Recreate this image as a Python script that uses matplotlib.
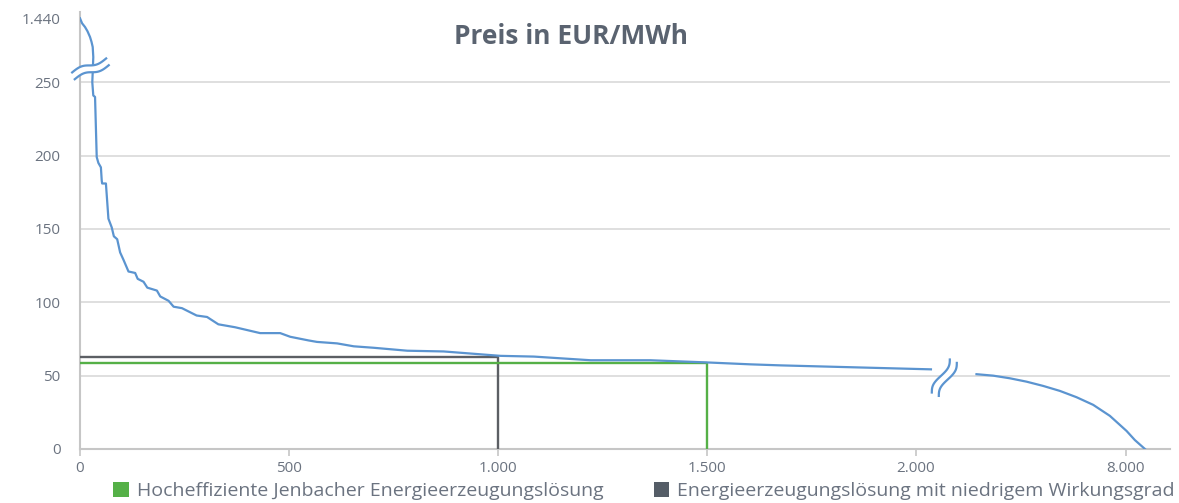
import numpy as np
import matplotlib
matplotlib.use('Agg')
import matplotlib.pyplot as plt
from matplotlib.patches import Patch, Polygon

plt.rcParams['font.family'] = ['Open Sans', 'DejaVu Sans']

#################
# chart data    #
#################
# price duration curve, part before the x break (hours, EUR/MWh)
hours_left = [0, 5, 12, 18, 24, 27.5, 30.4, 31.8, 30.5, 29.4, 31.8, 36, 40, 44, 50, 52,
              53, 62, 68, 76, 81, 89, 96, 104, 116, 132, 138, 152, 161, 184, 192, 212,
              224, 244, 279, 304, 331, 371, 431, 479, 503, 547, 567, 615, 655, 703,
              783, 870, 1006, 1086, 1222, 1365, 1501, 1605, 1677, 2036]
price_left = [1440, 1347, 1278, 1198, 1092, 1003, 906, 720, 450, 250, 241, 240, 199,
              195, 192, 183, 181, 181, 157, 151, 145, 143, 134, 129, 121, 120, 116,
              114, 110, 108, 104, 101, 97, 96, 91, 90, 85, 83, 79, 79, 76.5, 74, 73,
              72, 70, 69, 67, 66.5, 63.5, 63, 60.5, 60.5, 59, 57.7, 57, 54.3]

# part after the x break
hours_right = [2150, 2804, 3460, 4115, 4766, 5422, 6076, 6729, 7383, 8039, 8364, 8760]
price_right = [51, 50.0, 48.2, 45.9, 43.0, 39.6, 35.3, 30.1, 22.6, 12.3, 6.1, 0]

# operating points
eff_hours, eff_price = 1500, 58.5     # high efficiency solution
low_hours, low_price = 1000, 63       # low efficiency solution

x_ticks = [0, 500, 1000, 1500, 2000, 8000]
y_ticks = [0, 50, 100, 150, 200, 250, 1440]

title = 'Preis in EUR/MWh'
label_eff = 'Hocheffiziente Jenbacher Energieerzeugungslösung'
label_low = 'Energieerzeugungslösung mit niedrigem Wirkungsgrad'

c_curve = '#5b94d0'
c_eff = '#55b047'
c_low = '#5c5f64'
c_low_leg = '#555d67'
c_text = '#6b7380'
c_title = '#5a6370'
c_grid = '#dcdcdc'
c_axis = '#c6c6c6'

###########################
# broken axis scales      #
###########################
x_real = [-1e4, 0, 2100, 2150, 1e5]
x_fwd = [-1e4, 0, 2100, 2145, 2145 + (1e5 - 2150) / 16.4]
y_real = [-1e3, 250, 1440, 1e5]
y_fwd = [-1e3, 250, 293.6, 293.6 + (1e5 - 1440) * 43.6 / 1190]

def fx(v):
    return np.interp(v, x_real, x_fwd)

def ix(v):
    return np.interp(v, x_fwd, x_real)

def fy(v):
    return np.interp(v, y_real, y_fwd)

def iy(v):
    return np.interp(v, y_fwd, y_real)


def de_fmt(v, pos=None):
    return f'{int(v):,}'.replace(',', '.')


fig = plt.figure(figsize=(11.79, 5.03), dpi=100)
ax = fig.add_axes([80/1179, 1 - 449/503, 1090/1179, 437/503])

ax.set_xscale('function', functions=(fx, ix))
ax.set_yscale('function', functions=(fy, iy))
ax.set_xlim(0, ix(2608))
ax.set_ylim(0, iy(297.9))

ax.plot(hours_left, price_left, color=c_curve, lw=1.6, zorder=3)
ax.plot(hours_right, price_right, color=c_curve, lw=1.6, zorder=3)

ax.plot([0, low_hours, low_hours], [low_price, low_price, 0], color=c_low, lw=1.7, zorder=2.6)
ax.plot([0, eff_hours, eff_hours], [eff_price, eff_price, 0], color=c_eff, lw=1.7, zorder=2.7)

ax.set_xticks(x_ticks)
ax.set_xticklabels([de_fmt(v) for v in x_ticks])
ax.set_yticks(y_ticks)
ax.set_yticklabels([de_fmt(v) for v in y_ticks])
ax.minorticks_off()

for v in y_ticks[1:-1]:
    ax.axhline(v, color=c_grid, lw=1.3, zorder=1)

for s in ['top', 'right']:
    ax.spines[s].set_visible(False)
ax.spines['left'].set_color(c_axis)
ax.spines['left'].set_linewidth(1.5)
ax.spines['bottom'].set_color(c_axis)
ax.spines['bottom'].set_linewidth(1.5)

ax.tick_params(axis='x', length=5, width=1.2, color=c_axis, labelsize=11,
               labelcolor=c_text, pad=4)
ax.tick_params(axis='y', length=0, labelsize=11, labelcolor=c_text, pad=14)


# break markers
def draw_break(x, y, horizontal):
    px, py = ax.transData.transform((x, y))
    t = np.linspace(-1, 1, 60)
    if horizontal:
        bx = 17 * t
        by = 7 * t - 2.2 * np.sin(np.pi * t)
        offs = [(-1.3, 3.4), (1.3, -3.4)]
    else:
        by = 16.5 * t
        bx = 9 * t + 2.8 * np.sin(np.pi * t)
        offs = [(-3.5, 1.7), (3.5, -1.7)]
    l1 = np.column_stack([px + bx + offs[0][0], py + by + offs[0][1]])
    l2 = np.column_stack([px + bx + offs[1][0], py + by + offs[1][1]])
    poly = Polygon(np.vstack([l1, l2[::-1]]), closed=True, facecolor='white',
                   edgecolor='none', transform=None, zorder=4, clip_on=False)
    ax.add_artist(poly)
    for ln in (l1, l2):
        ax.plot(ln[:, 0], ln[:, 1], color=c_curve, lw=1.6, transform=None,
                zorder=5, clip_on=False)


draw_break(25, 500, True)
draw_break(2068, 48.6, False)

fig.text(571/1179, 1 - 36/503, title, ha='center', va='center', fontsize=19,
         fontweight='bold', color=c_title)

handles = [Patch(facecolor=c_eff, label=label_eff),
           Patch(facecolor=c_low_leg, label=label_low)]
fig.legend(handles=handles, loc='center', bbox_to_anchor=(644/1179, 1 - 491/503),
           ncol=2, frameon=False, fontsize=14, handlelength=0.8, handleheight=0.8,
           handletextpad=0.4, columnspacing=2.6, labelcolor=c_text,
           borderpad=0, borderaxespad=0)

fig.savefig('out.png', dpi=100)
